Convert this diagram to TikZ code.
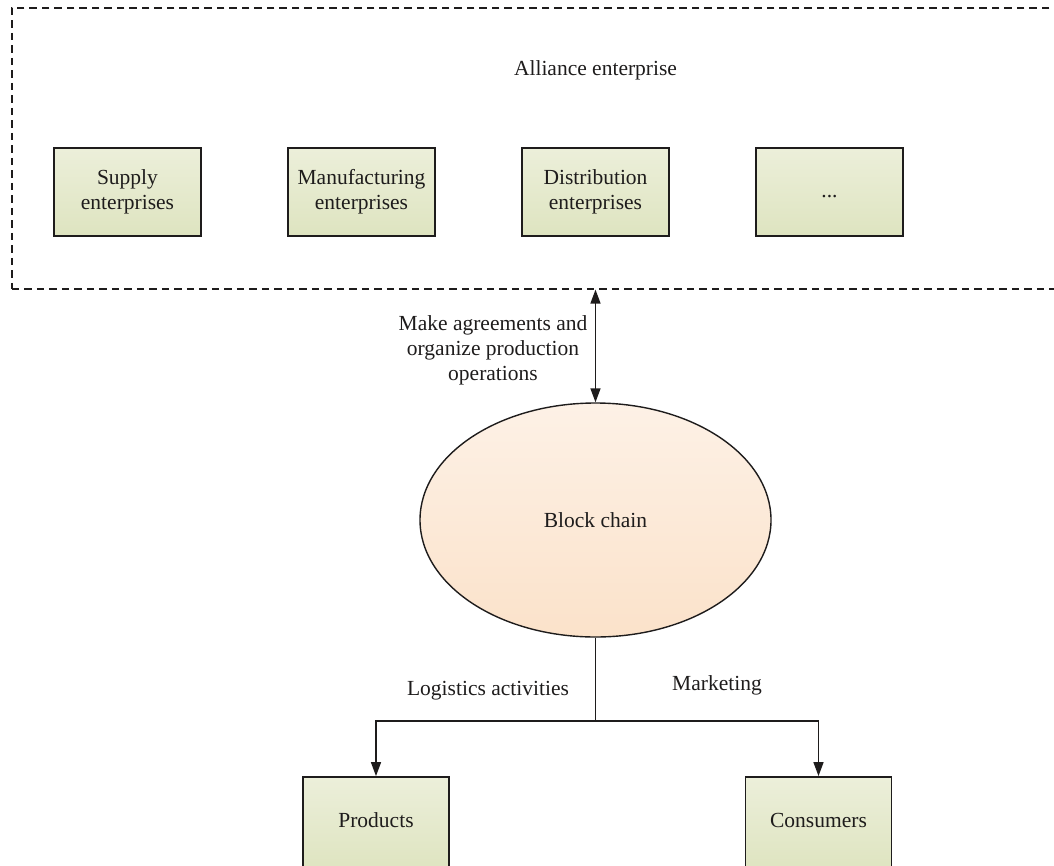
\documentclass[tikz,border=0pt]{standalone}
\usepackage{fontspec}
\setmainfont{Liberation Serif}
\usetikzlibrary{shapes.geometric,arrows.meta}

\definecolor{boxtop}{RGB}{236,239,218}
\definecolor{boxbot}{RGB}{222,228,192}
\definecolor{chaintop}{RGB}{253,241,230}
\definecolor{chainbot}{RGB}{251,226,202}
\definecolor{ink}{RGB}{30,28,28}

\tikzset{
    txt/.style={text=ink, align=center, font=\fontsize{21.5}{25}\selectfont},
    entbox/.style={txt, draw=ink, line width=1.8pt, top color=boxtop, bottom color=boxbot,
        minimum width=\boxw pt, minimum height=\boxh pt, inner sep=2pt},
    conn/.style={draw=ink, line width=1.5pt},
    arr/.style={conn, -{Triangle[length=14pt,width=10pt]}},
}

\begin{document}
\begin{tikzpicture}[x=1pt,y=-1pt]
    % Define sizes (in px of the reference)
    \def\boxw{147} % box width
    \def\boxh{88} % box height
    \def\gap{234} % distance between box centres

    \useasboundingbox (0,0) rectangle (1054,865);

    % Outer dashed frame
    \node[draw=ink, dash pattern=on 7.5pt off 5pt, line width=1.6pt, minimum width=1047pt,
        minimum height=281pt, anchor=north west, inner sep=0pt] (alliance) at (11,7) {};
    \node[txt] (alliancelbl) at (595.5,70) {Alliance enterprise};

    % The four enterprise boxes
    \foreach \i/\nm/\t in {0/supply/{Supply\\enterprises},
                           1/manufact/{Manufacturing\\enterprises},
                           2/distrib/{Distribution\\enterprises},
                           3/more/{\strut...}} {
        \node[entbox] (\nm) at (127.5+\i*\gap,192) {\t};
    }

    % Block chain
    \node[txt, ellipse, draw=ink, line width=1.4pt, top color=chaintop, bottom color=chainbot,
        minimum width=351pt, minimum height=234pt, inner sep=0pt] (chain) at (595.5,520) {Block chain};

    \draw[conn, {Triangle[length=14pt,width=10pt]}-{Triangle[length=14pt,width=10pt]}]
        (chain.north |- alliance.south) -- (chain.north);
    \node[txt] (agreelbl) at (493,350) {Make agreements and\\organize production\\operations};

    % Products and consumers (cut off at the bottom edge)
    \node[entbox, minimum width=146pt, minimum height=94pt, text depth=7pt] (products) at (376,824) {Products};
    \node[entbox, minimum width=146pt, minimum height=94pt, text depth=7pt] (consumers) at (818.5,824) {Consumers};

    \coordinate (split) at (chain.south |- 0,721);
    \draw[conn] (chain.south) -- (split);
    \draw[arr] (split) -| (products.north);
    \draw[arr] (split) -| (consumers.north);

    \node[txt] (logistlbl) at (488,691) {Logistics activities};
    \node[txt] (marketlbl) at (717,685) {Marketing};
\end{tikzpicture}
\end{document}
